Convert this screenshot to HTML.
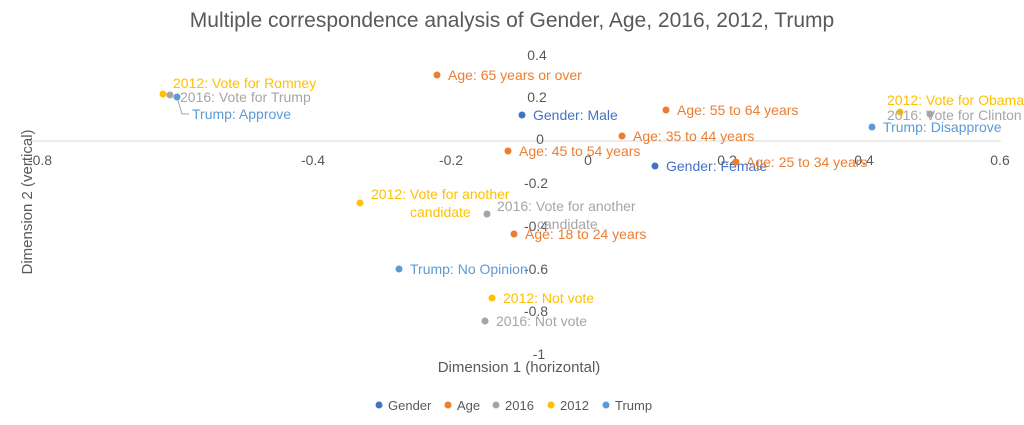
<!DOCTYPE html>
<html><head><meta charset="utf-8"><style>
html,body{margin:0;padding:0;background:#fff;}
svg{display:block;font-family:"Liberation Sans",sans-serif;}
</style></head><body>
<svg width="1024" height="425" viewBox="0 0 1024 425" xmlns="http://www.w3.org/2000/svg">
<rect width="1024" height="425" fill="#fff"/>
<text x="512" y="27" text-anchor="middle" font-size="21" fill="#595959">Multiple correspondence analysis of Gender, Age, 2016, 2012, Trump</text>
<line x1="30" y1="141" x2="1001" y2="141" stroke="#d9d9d9" stroke-width="1"/>
<g font-size="14" fill="#595959" text-anchor="middle">
<text x="40" y="165">-0.8</text><text x="313" y="165">-0.4</text><text x="451" y="165">-0.2</text>
<text x="588" y="165">0</text><text x="727" y="165">0.2</text><text x="864" y="165">0.4</text><text x="1000" y="165">0.6</text>
</g>
<g font-size="14" fill="#595959" text-anchor="middle">
<text x="537" y="60">0.4</text><text x="537" y="102">0.2</text><text x="540" y="144">0</text>
<text x="536" y="188">-0.2</text><text x="536" y="231">-0.4</text><text x="536" y="274">-0.6</text>
<text x="536" y="316">-0.8</text><text x="539" y="359">-1</text>
</g>
<text x="519" y="372" text-anchor="middle" font-size="15" fill="#595959">Dimension 1 (horizontal)</text>
<text transform="translate(32,202) rotate(-90)" text-anchor="middle" font-size="15" fill="#595959">Dimension 2 (vertical)</text>
<g font-size="14">
<path d="M177,97 L182,114 L189,114" stroke="#a5a5a5" fill="none"/>
<circle cx="163" cy="94" r="3.5" fill="#FFC000"/><text x="173" y="88" fill="#FFC000">2012: Vote for Romney</text>
<circle cx="170" cy="95" r="3.5" fill="#A5A5A5"/><text x="180" y="102" fill="#A5A5A5">2016: Vote for Trump</text>
<circle cx="177" cy="97" r="3.5" fill="#5B9BD5"/><text x="192" y="119" fill="#5B9BD5">Trump: Approve</text>
<circle cx="437" cy="75" r="3.5" fill="#ED7D31"/><text x="448" y="80" fill="#ED7D31">Age: 65 years or over</text>
<circle cx="522" cy="115" r="3.5" fill="#4472C4"/><text x="533" y="120" fill="#4472C4">Gender: Male</text>
<circle cx="666" cy="110" r="3.5" fill="#ED7D31"/><text x="677" y="115" fill="#ED7D31">Age: 55 to 64 years</text>
<circle cx="622" cy="136" r="3.5" fill="#ED7D31"/><text x="633" y="141" fill="#ED7D31">Age: 35 to 44 years</text>
<circle cx="508" cy="151" r="3.5" fill="#ED7D31"/><text x="519" y="156" fill="#ED7D31">Age: 45 to 54 years</text>
<circle cx="655" cy="166" r="3.5" fill="#4472C4"/><text x="666" y="171" fill="#4472C4">Gender: Female</text>
<circle cx="736" cy="162" r="3.5" fill="#ED7D31"/><text x="746" y="167" fill="#ED7D31">Age: 25 to 34 years</text>
<circle cx="900" cy="112" r="3.5" fill="#FFC000"/><text x="887" y="105" fill="#FFC000">2012: Vote for Obama</text>
<circle cx="930" cy="114" r="3.5" fill="#A5A5A5"/><text x="887" y="120" fill="#A5A5A5">2016: Vote for Clinton</text>
<circle cx="872" cy="127" r="3.5" fill="#5B9BD5"/><text x="883" y="132" fill="#5B9BD5">Trump: Disapprove</text>
<circle cx="360" cy="203" r="3.5" fill="#FFC000"/><text x="371" y="199" fill="#FFC000">2012: Vote for another</text><text x="410" y="217" fill="#FFC000">candidate</text>
<circle cx="487" cy="214" r="3.5" fill="#A5A5A5"/><text x="497" y="211" fill="#A5A5A5">2016: Vote for another</text><text x="537" y="229" fill="#A5A5A5">candidate</text>
<circle cx="514" cy="234" r="3.5" fill="#ED7D31"/><text x="525" y="239" fill="#ED7D31">Age: 18 to 24 years</text>
<circle cx="399" cy="269" r="3.5" fill="#5B9BD5"/><text x="410" y="274" fill="#5B9BD5">Trump: No Opinion</text>
<circle cx="492" cy="298" r="3.5" fill="#FFC000"/><text x="503" y="303" fill="#FFC000">2012: Not vote</text>
<circle cx="485" cy="321" r="3.5" fill="#A5A5A5"/><text x="496" y="326" fill="#A5A5A5">2016: Not vote</text>
</g>
<g font-size="13" fill="#595959">
<circle cx="379" cy="405" r="3.5" fill="#4472C4"/><text x="388" y="410">Gender</text>
<circle cx="448" cy="405" r="3.5" fill="#ED7D31"/><text x="457" y="410">Age</text>
<circle cx="496" cy="405" r="3.5" fill="#A5A5A5"/><text x="505" y="410">2016</text>
<circle cx="551" cy="405" r="3.5" fill="#FFC000"/><text x="560" y="410">2012</text>
<circle cx="606" cy="405" r="3.5" fill="#5B9BD5"/><text x="615" y="410">Trump</text>
</g>
</svg>
</body></html>
